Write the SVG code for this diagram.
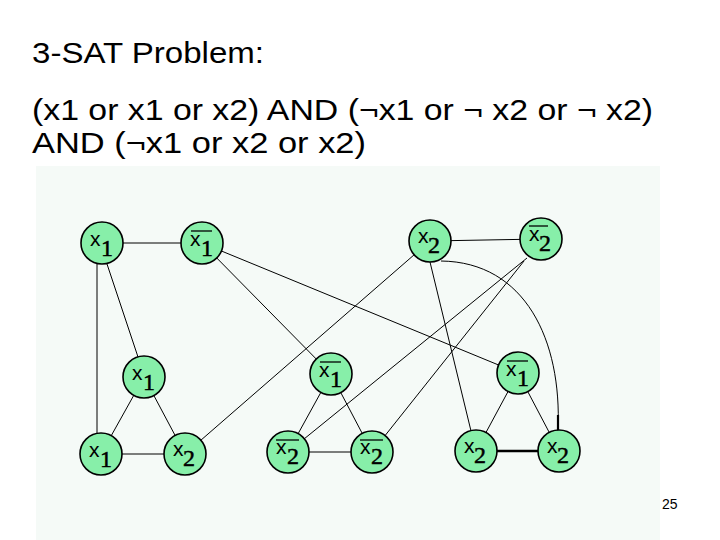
<svg xmlns="http://www.w3.org/2000/svg" width="720" height="540" viewBox="0 0 720 540">
<style>
.t{font-family:"Liberation Sans",Arial,sans-serif;font-size:29px;fill:#000}
.n circle{fill:#87efa9;stroke:#000;stroke-width:1.6}
.v{font-family:"Liberation Sans",Arial,sans-serif;font-size:21px;fill:#000}
.d{font-family:"Liberation Serif","Times New Roman",serif;font-size:24px;fill:#000;stroke:#000;stroke-width:0.5}
.bar{stroke:#000;stroke-width:1.3}
.e line,.e path{stroke:#000;stroke-width:1;fill:none}
.pg{font-family:"Liberation Sans",Arial,sans-serif;font-size:14px;fill:#000}
</style>
<rect width="720" height="540" fill="#ffffff"/>
<rect x="36" y="166" width="624" height="374" fill="#f5faf7"/>
<text class="t" x="32" y="63" textLength="232" lengthAdjust="spacingAndGlyphs">3-SAT Problem:</text>
<text class="t" x="32" y="120" textLength="621" lengthAdjust="spacingAndGlyphs">(x1 or x1 or x2) AND (¬x1 or ¬ x2 or ¬ x2)</text>
<text class="t" x="32" y="153" textLength="334" lengthAdjust="spacingAndGlyphs">AND (¬x1 or x2 or x2)</text>
<g class="e" id="connectors">
<line x1="102" y1="243" x2="202" y2="243"/>
<line x1="430" y1="241" x2="541" y2="239"/>
<line x1="97" y1="263" x2="97" y2="434"/>
<line x1="107" y1="264" x2="138" y2="357"/>
<line x1="202" y1="243" x2="331" y2="374"/>
<line x1="202" y1="243" x2="518" y2="373"/>
<line x1="430" y1="262" x2="471" y2="431"/>
<line x1="430" y1="241" x2="185" y2="454"/>
<line x1="527" y1="258" x2="288" y2="452"/>
<line x1="524" y1="261" x2="372" y2="452"/>
<path d="M441 261 C525 262 562 340 558 430"/>
<line x1="558" y1="415" x2="558" y2="431" style="stroke-width:2.2"/>
<line x1="144" y1="377" x2="101" y2="454"/>
<line x1="144" y1="377" x2="185" y2="454"/>
<line x1="101" y1="454" x2="185" y2="454"/>
<line x1="331" y1="374" x2="288" y2="452"/>
<line x1="331" y1="374" x2="372" y2="452"/>
<line x1="288" y1="452" x2="372" y2="452"/>
<line x1="518" y1="373" x2="476" y2="451"/>
<line x1="518" y1="373" x2="559" y2="451"/>
<line x1="476" y1="451" x2="559" y2="451" style="stroke-width:2.5"/>
</g>
<g class="n" id="n-x1-top"><circle cx="102" cy="243" r="21"/><text class="v" x="90" y="246">x</text><text class="d" x="101" y="256">1</text></g>
<g class="n" id="n-nx1-top"><circle cx="202" cy="243" r="21"/><text class="v" x="190" y="246">x</text><text class="d" x="201" y="256">1</text><line class="bar" x1="191" y1="231" x2="212" y2="231"/></g>
<g class="n" id="n-x2-top"><circle cx="430" cy="241" r="21"/><text class="v" x="418" y="243">x</text><text class="d" x="428" y="253">2</text></g>
<g class="n" id="n-nx2-top"><circle cx="541" cy="239" r="21"/><text class="v" x="529" y="241">x</text><text class="d" x="539" y="251">2</text><line class="bar" x1="529" y1="226" x2="548" y2="226"/></g>
<g class="n" id="n-x1-c1"><circle cx="144" cy="377" r="21"/><text class="v" x="132" y="380">x</text><text class="d" x="143" y="390">1</text></g>
<g class="n" id="n-x1-c1b"><circle cx="101" cy="454" r="21"/><text class="v" x="89" y="457">x</text><text class="d" x="100" y="467">1</text></g>
<g class="n" id="n-x2-c1"><circle cx="185" cy="454" r="21"/><text class="v" x="173" y="456">x</text><text class="d" x="183" y="466">2</text></g>
<g class="n" id="n-nx1-c2"><circle cx="331" cy="374" r="21"/><text class="v" x="319" y="377">x</text><text class="d" x="330" y="387">1</text><line class="bar" x1="320" y1="362" x2="341" y2="362"/></g>
<g class="n" id="n-nx2-c2a"><circle cx="288" cy="452" r="21"/><text class="v" x="276" y="454">x</text><text class="d" x="287" y="464">2</text><line class="bar" x1="276" y1="440" x2="299" y2="440"/></g>
<g class="n" id="n-nx2-c2b"><circle cx="372" cy="452" r="21"/><text class="v" x="360" y="454">x</text><text class="d" x="371" y="464">2</text><line class="bar" x1="360" y1="440" x2="383" y2="440"/></g>
<g class="n" id="n-nx1-c3"><circle cx="518" cy="373" r="21"/><text class="v" x="506" y="376">x</text><text class="d" x="517" y="386">1</text><line class="bar" x1="507" y1="361" x2="528" y2="361"/></g>
<g class="n" id="n-x2-c3a"><circle cx="476" cy="451" r="21"/><text class="v" x="464" y="453">x</text><text class="d" x="474" y="463">2</text></g>
<g class="n" id="n-x2-c3b"><circle cx="559" cy="451" r="21"/><text class="v" x="547" y="453">x</text><text class="d" x="557" y="463">2</text></g>
<text class="pg" x="662" y="509">25</text>
</svg>
